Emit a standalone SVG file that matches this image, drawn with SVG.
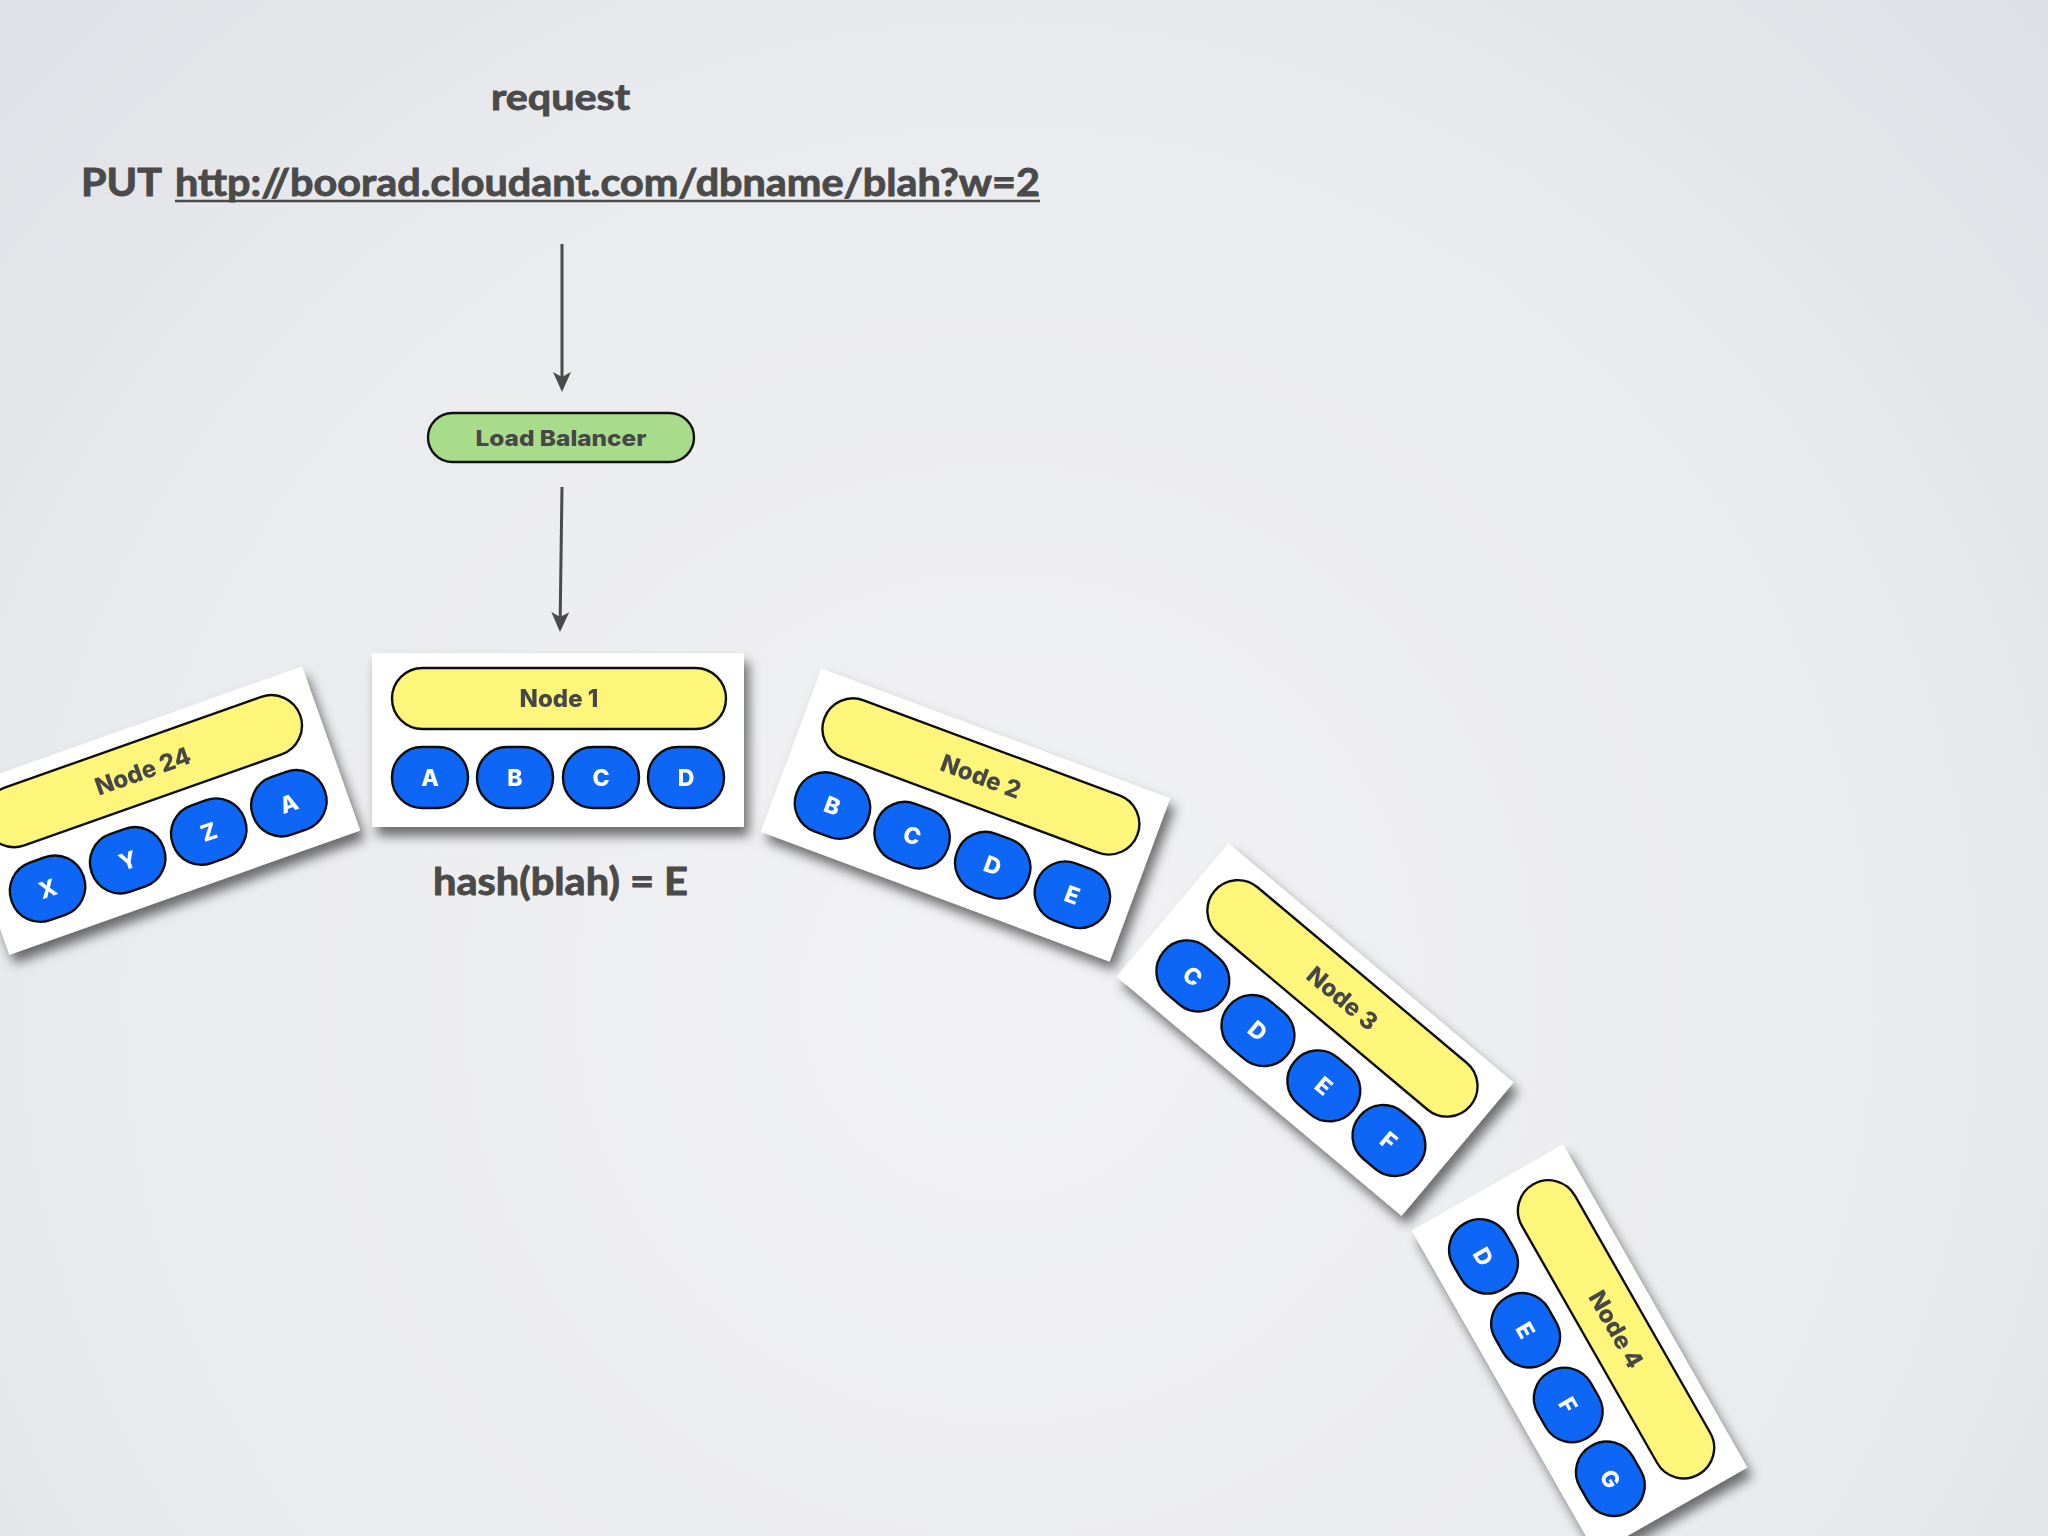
<svg xmlns="http://www.w3.org/2000/svg" xmlns:xlink="http://www.w3.org/1999/xlink" width="2048" height="1536" viewBox="0 0 2048 1536">
<defs>
<style>
.title{font-family:Lato,"Open Sans","Liberation Sans",sans-serif;font-weight:bold;fill:#4a4a4a;stroke:#4a4a4a;stroke-width:0.9}
.lbl{font-family:Inter,"Open Sans","Liberation Sans",sans-serif;font-weight:800;fill:#474747;text-anchor:middle}
.pl{font-family:Inter,"Open Sans","Liberation Sans",sans-serif;font-weight:800;fill:#ffffff;text-anchor:middle;font-size:23px}
.frame{fill:#ffffff}
.yel{fill:#fdf67a;stroke:#111;stroke-width:2.4}
.blu{fill:#0866f5;stroke:#111;stroke-width:2.4}
.conn{stroke:#4a4a4a;stroke-width:3;fill:none}
</style>
<radialGradient id="bg" cx="1000" cy="1000" r="1500" gradientUnits="userSpaceOnUse">
<stop offset="0" stop-color="#f2f2f4"/>
<stop offset="0.6" stop-color="#eaebee"/>
<stop offset="1" stop-color="#dcdfe4"/>
</radialGradient>
<filter id="shadow" x="-20%" y="-20%" width="150%" height="160%">
<feDropShadow dx="5" dy="9" stdDeviation="6" flood-color="#000" flood-opacity="0.55"/>
</filter>
<marker id="ah" viewBox="0 0 20 20" refX="12" refY="10" markerWidth="20" markerHeight="20" orient="auto" markerUnits="userSpaceOnUse">
<path d="M0,1 L20,10 L0,19 L5,10 z" fill="#4a4a4a"/>
</marker>
<g id="card">
<rect class="frame" x="-186" y="-87" width="372" height="174"/>
<rect class="yel" x="-166" y="-72" width="334" height="61" rx="30.5"/>
<rect class="blu" x="-166" y="7" width="76" height="61" rx="30"/>
<rect class="blu" x="-81" y="7" width="76" height="61" rx="30"/>
<rect class="blu" x="5" y="7" width="76" height="61" rx="30"/>
<rect class="blu" x="90" y="7" width="76" height="61" rx="30"/>
</g>
</defs>
<rect width="2048" height="1536" fill="url(#bg)"/>

<g id="texts">
<text class="title" x="491" y="110" font-size="37" textLength="139" lengthAdjust="spacingAndGlyphs">request</text>
<text class="title" x="81" y="196" font-size="38" textLength="81" lengthAdjust="spacingAndGlyphs">PUT</text>
<text class="title" x="175" y="196" font-size="38" textLength="865" lengthAdjust="spacingAndGlyphs">http://boorad.cloudant.com/dbname/blah?w=2</text>
<line x1="175" y1="201" x2="1040" y2="201" stroke="#4a4a4a" stroke-width="2.5"/>
<text class="title" x="433" y="895" font-size="38" textLength="255" lengthAdjust="spacingAndGlyphs">hash(blah) = E</text>
</g>

<g id="connectors">
<line class="conn" x1="562" y1="244" x2="562" y2="384" marker-end="url(#ah)"/>
<line class="conn" x1="562" y1="487" x2="560.1" y2="624" marker-end="url(#ah)"/>
</g>

<g id="load-balancer">
<rect x="428" y="413" width="266" height="49" rx="24.5" fill="#a8dc8a" stroke="#111" stroke-width="2.4"/>
<text class="lbl" x="561" y="446" font-size="22" textLength="171" lengthAdjust="spacingAndGlyphs">Load Balancer</text>
</g>

<g id="node-24" filter="url(#shadow)">
<g transform="translate(155.7,810.6) rotate(-19.5)">
<use xlink:href="#card"/>
<text class="lbl" x="1" y="-33" font-size="24">Node 24</text>
<text class="pl" x="-128" y="46">X</text>
<text class="pl" x="-43" y="46">Y</text>
<text class="pl" x="43" y="46">Z</text>
<text class="pl" x="128" y="46">A</text>
</g>
</g>

<g id="node-1" filter="url(#shadow)">
<g transform="translate(558,740)">
<use xlink:href="#card"/>
<text class="lbl" x="1" y="-33" font-size="24">Node 1</text>
<text class="pl" x="-128" y="46">A</text>
<text class="pl" x="-43" y="46">B</text>
<text class="pl" x="43" y="46">C</text>
<text class="pl" x="128" y="46">D</text>
</g>
</g>

<g id="node-2" filter="url(#shadow)">
<g transform="translate(965.5,815) rotate(20.4)">
<use xlink:href="#card"/>
<text class="lbl" x="1" y="-33" font-size="24">Node 2</text>
<text class="pl" x="-128" y="46">B</text>
<text class="pl" x="-43" y="46">C</text>
<text class="pl" x="43" y="46">D</text>
<text class="pl" x="128" y="46">E</text>
</g>
</g>

<g id="node-3" filter="url(#shadow)">
<g transform="translate(1315,1029.5) rotate(40)">
<use xlink:href="#card"/>
<text class="lbl" x="1" y="-33" font-size="24">Node 3</text>
<text class="pl" x="-128" y="46">C</text>
<text class="pl" x="-43" y="46">D</text>
<text class="pl" x="43" y="46">E</text>
<text class="pl" x="128" y="46">F</text>
</g>
</g>

<g id="node-4" filter="url(#shadow)">
<g transform="translate(1579.5,1349) rotate(60.3)">
<use xlink:href="#card"/>
<text class="lbl" x="1" y="-33" font-size="24">Node 4</text>
<text class="pl" x="-128" y="46">D</text>
<text class="pl" x="-43" y="46">E</text>
<text class="pl" x="43" y="46">F</text>
<text class="pl" x="128" y="46">G</text>
</g>
</g>
</svg>
